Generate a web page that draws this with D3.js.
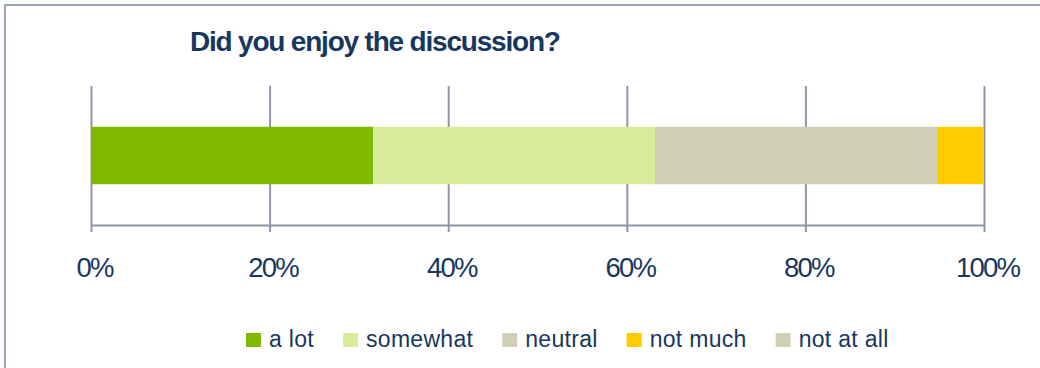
<!DOCTYPE html>
<html>
<head>
<meta charset="utf-8">
<script src="https://cdn.jsdelivr.net/npm/d3@7"></script>
<style>
  html, body { margin: 0; padding: 0; background: #fff; }
  svg { display: block; }
  text { font-family: "Liberation Sans", Arial, sans-serif; fill: #17375e; }
</style>
</head>
<body>
<svg id="chart" width="1040" height="368"></svg>
<script>
// Answers to "Did you enjoy the discussion?" (number of responses)
const categories = ["a lot", "somewhat", "neutral", "not much", "not at all"];
const responses = [6, 6, 6, 1, 0];
const colors = ["#7fba00", "#d9ec9c", "#d0cfb4", "#ffcc00", "#d0cfb4"];
const tickValues = [0, 0.2, 0.4, 0.6, 0.8, 1];
const title = "Did you enjoy the discussion?";

const svg = d3.select("#chart");
const W = 1040, H = 368;

// frame around the chart area
svg.append("rect")
  .attr("x", 5).attr("y", 5)
  .attr("width", W).attr("height", H)
  .attr("fill", "#fff")
  .attr("stroke", "#9ca5b9")
  .attr("stroke-width", 2);

svg.append("text")
  .attr("x", 190).attr("y", 51)
  .style("font-size", "28px")
  .style("font-weight", "bold")
  .style("letter-spacing", "-1.2px")
  .text(title);

const plotTop = 86, plotBottom = 225;
const x = d3.scaleLinear().domain([0, 1]).range([91, 984]);
const y = d3.scaleBand().domain(["q"]).range([plotTop, plotBottom]).paddingInner(0).paddingOuter(0.71);

// 100% stacked values
const total = d3.sum(responses);
const row = {};
categories.forEach((c, i) => row[c] = responses[i] / total);
const stack = d3.stack().keys(categories)([row]);

// vertical gridlines
svg.append("g")
  .attr("transform", `translate(0,${plotBottom})`)
  .call(d3.axisBottom(x).tickValues(tickValues).tickSize(-(plotBottom - plotTop)).tickFormat(""))
  .call(g => g.select(".domain").remove())
  .selectAll("line")
  .attr("stroke", "#8e96aa")
  .attr("stroke-width", 2);

// stacked bar
svg.append("g")
  .selectAll("rect")
  .data(stack)
  .join("rect")
  .attr("x", d => x(d[0][0]))
  .attr("width", d => x(d[0][1]) - x(d[0][0]))
  .attr("y", y("q"))
  .attr("height", y.bandwidth())
  .attr("fill", (d, i) => colors[i]);

// bottom axis
const axis = svg.append("g")
  .attr("transform", `translate(0,${plotBottom})`)
  .call(d3.axisBottom(x).tickValues(tickValues).tickSize(7).tickSizeOuter(0).tickFormat(d3.format(".0%")));
axis.select(".domain").attr("stroke", "#8e96aa").attr("stroke-width", 2);
axis.selectAll(".tick line").attr("stroke", "#8e96aa").attr("stroke-width", 2);
axis.selectAll(".tick text")
  .attr("y", 52).attr("dy", 0).attr("dx", 3)
  .style("font-size", "27.5px")
  .style("letter-spacing", "-1.8px")
  .style("fill", "#17375e");

// legend
const legend = svg.append("g").attr("transform", "translate(246,333)");
let lx = 0;
categories.forEach((c, i) => {
  const g = legend.append("g").attr("transform", `translate(${lx},0)`);
  g.append("rect").attr("width", 15).attr("height", 14).attr("fill", colors[i]);
  const t = g.append("text")
    .attr("x", 23).attr("y", 14)
    .style("font-size", "23px")
    .style("letter-spacing", "0.3px")
    .text(c);
  lx += 23 + t.node().getComputedTextLength() + 29;
});
</script>
</body>
</html>
